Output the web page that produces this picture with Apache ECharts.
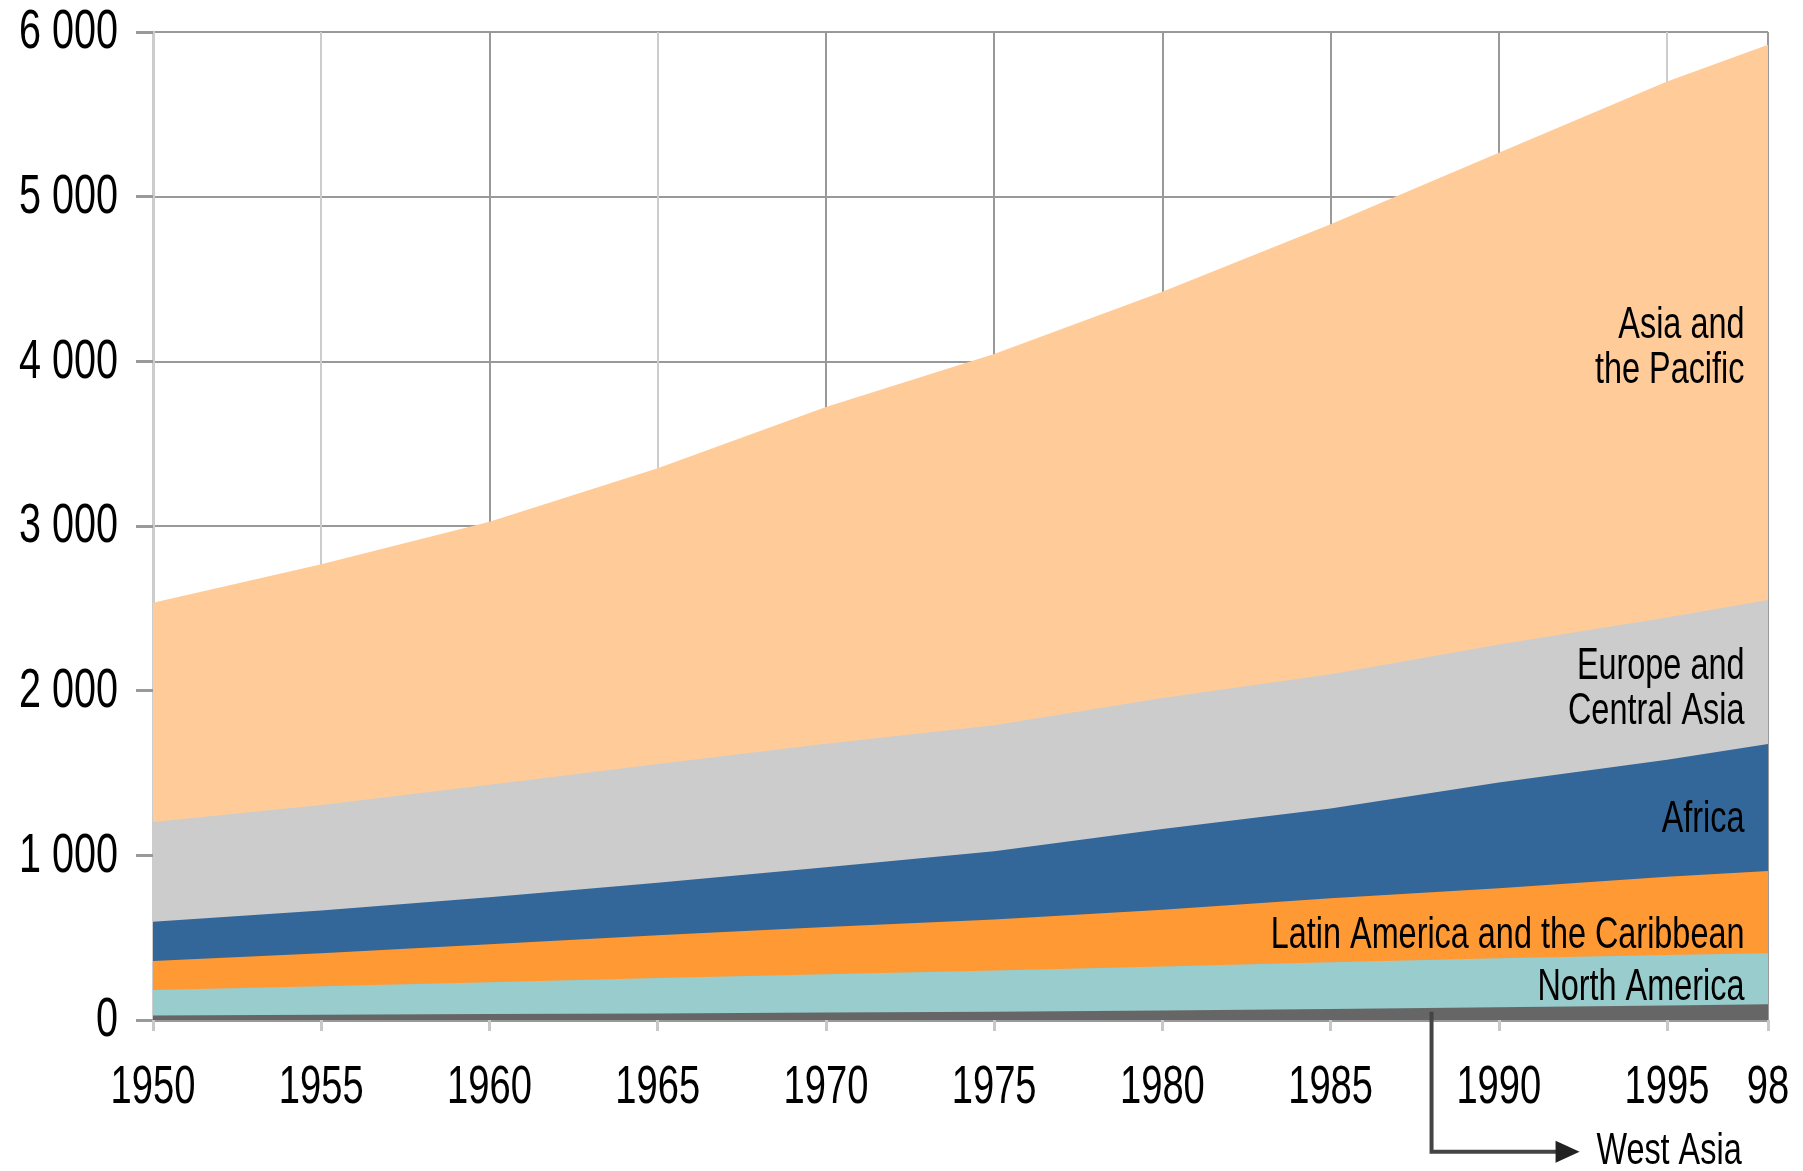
<!DOCTYPE html>
<html>
<head>
<meta charset="utf-8">
<title>Population by region, 1950-1998</title>
<script src="https://cdn.jsdelivr.net/npm/echarts@6/dist/echarts.min.js"></script>
<style>
  html, body { margin: 0; padding: 0; background: #fff; }
  #main { width: 1803px; height: 1171px; }
</style>
</head>
<body>
<div id="main"></div>
<script>
// years on the x axis, population (millions) per region, bottom layer first
var years = [1950, 1955, 1960, 1965, 1970, 1975, 1980, 1985, 1990, 1995, 1998];
var westAsia     = [28, 32, 36, 40, 45, 50, 57, 67, 78, 88, 95];
var northAmerica = [154, 173, 194, 215, 233, 250, 268, 283, 297, 307, 310];
var latinAmerica = [176, 200, 230, 260, 287, 310, 345, 390, 425, 475, 500];
var africa       = [239, 260, 285, 319, 363, 415, 490, 545, 643, 710, 771];
var europe       = [605, 640, 683, 721, 749, 765, 795, 815, 837, 865, 874];
var asiaPacific  = [1332, 1463, 1598, 1796, 2045, 2254, 2467, 2733, 2987, 3255, 3372];

// tick labels
var xTicks = [1950, 1955, 1960, 1965, 1970, 1975, 1980, 1985, 1990, 1995, 1998];
var xTickText = ['1950', '1955', '1960', '1965', '1970', '1975', '1980', '1985', '1990', '1995', '98'];
var yTicks = [0, 1000, 2000, 3000, 4000, 5000, 6000];
var yTickText = ['0', '1 000', '2 000', '3 000', '4 000', '5 000', '6 000'];

var regions = ['West Asia', 'North America', 'Latin America and the Caribbean',
  'Africa', 'Europe and Central Asia', 'Asia and the Pacific'];
var colors = ['#666666', '#99cccc', '#ff9933', '#336699', '#cccccc', '#ffcc99'];

var FONT = "'Liberation Sans', Arial, Helvetica, sans-serif";
var SQUEEZE = 0.72; // the original lettering is condensed

var chart = echarts.init(document.getElementById('main'));

// running totals so each band sits on the one below it
var layers = [westAsia, northAmerica, latinAmerica, africa, europe, asiaPacific];
var tops = [];
layers.forEach(function (vals, k) {
  tops.push(vals.map(function (v, i) { return (k ? tops[k - 1][i] : 0) + v; }));
});

// paint the tallest band first, smaller ones on top
var series = [];
for (var k = layers.length - 1; k >= 0; k--) {
  series.push({
    name: regions[k],
    type: 'line',
    symbol: 'none',
    lineStyle: { width: 0 },
    areaStyle: { color: colors[k], opacity: 1 },
    itemStyle: { color: colors[k] },
    data: years.map(function (y, i) { return [y, tops[k][i]]; })
  });
}

var option = {
  animation: false,
  backgroundColor: '#fff',
  grid: { left: 153, right: 35, top: 32, bottom: 151, outerBoundsMode: 'none' },
  xAxis: {
    type: 'value',
    min: 1950,
    max: 1998,
    interval: 5,
    axisLine: { lineStyle: { color: '#999', width: 3 } },
    axisTick: { length: 11, lineStyle: { color: '#c8c8c8', width: 3 } },
    axisLabel: { show: false },
    splitLine: {
      show: true,
      lineStyle: {
        width: 2,
        color: ['#ccc', '#ccc', '#999', '#ccc', '#999', '#999', '#999', '#999', '#999', '#ccc', '#999']
      }
    }
  },
  yAxis: {
    type: 'value',
    min: 0,
    max: 6000,
    interval: 1000,
    axisLine: { show: true, lineStyle: { color: '#ccc', width: 3 } },
    axisTick: { show: true, length: 17, lineStyle: { color: '#999', width: 3 } },
    axisLabel: { show: false },
    splitLine: { lineStyle: { color: '#999', width: 2 } }
  },
  series: series
};

chart.setOption(option);

function px(x, y) { return chart.convertToPixel({ gridIndex: 0 }, [x, y]); }

function txt(p, text, size, align, vAlign, lineHeight) {
  return {
    type: 'text',
    x: p[0], y: p[1],
    scaleX: SQUEEZE,
    z: 100,
    style: {
      text: text,
      font: size + 'px ' + FONT,
      fill: '#000',
      align: align,
      verticalAlign: vAlign,
      lineHeight: lineHeight || size
    }
  };
}

var graphics = [];

// tick labels, placed through the axes' own scales
var origin = px(1950, 0);
yTicks.forEach(function (v, i) {
  var p = px(1950, v);
  graphics.push(txt([origin[0] - 35, p[1] + 1], yTickText[i], 55, 'right', 'middle'));
});
xTicks.forEach(function (v, i) {
  var p = px(v, 0);
  graphics.push(txt([p[0], origin[1] + 68], xTickText[i], 53, 'center', 'middle'));
});

// region labels near the right edge
var labelX = 1997.3;
var labels = [
  { text: 'Asia and\nthe Pacific', y: 4080 },
  { text: 'Europe and\nCentral Asia', y: 2010 },
  { text: 'Africa', y: 1215 },
  { text: 'Latin America and the Caribbean', y: 512 },
  { text: 'North America', y: 195 }
];
labels.forEach(function (l) {
  graphics.push(txt(px(labelX, l.y), l.text, 45, 'right', 'middle', 45));
});

// West Asia pointer: down from the dark strip, then right to the label
var a0 = px(1988, 50);
var a1 = px(1988, -800);
var a2 = px(1992.4, -800);
graphics.push({
  type: 'polyline',
  z: 100,
  shape: { points: [a0, a1, [a2[0] - 18, a2[1]]] },
  style: { stroke: '#444', lineWidth: 4, fill: null }
});
graphics.push({
  type: 'polygon',
  z: 100,
  shape: { points: [[a2[0], a2[1]], [a2[0] - 24, a2[1] - 11], [a2[0] - 24, a2[1] + 11]] },
  style: { fill: '#222' }
});
graphics.push(txt(px(1992.9, -800), 'West Asia', 45, 'left', 'middle'));

chart.setOption({ graphic: graphics });
</script>
</body>
</html>
